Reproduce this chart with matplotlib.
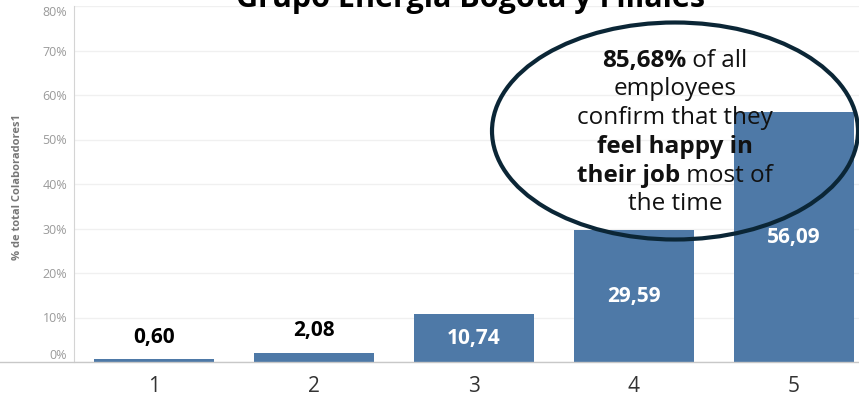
import matplotlib
matplotlib.use("Agg")
import matplotlib.pyplot as plt
from matplotlib.patches import Ellipse
from matplotlib.lines import Line2D
from matplotlib.transforms import IdentityTransform

categories = ["1", "2", "3", "4", "5"]
values = [0.60, 2.08, 10.74, 29.59, 56.09]
value_labels = ["0,60", "2,08", "10,74", "29,59", "56,09"]
y_ticks = [0, 10, 20, 30, 40, 50, 60, 70, 80]
y_tick_labels = ["0%", "10%", "20%", "30%", "40%", "50%", "60%", "70%", "80%"]
title = "Grupo Energía Bogotá y Filiales"
y_label = "% de total Colaboradores1"
callout_lines = [
    [("85,68%", "bold"), (" of all", "normal")],
    [("employees", "normal")],
    [("confirm that they", "normal")],
    [("feel happy in", "bold")],
    [("their job", "bold"), (" most of", "normal")],
    [("the time", "normal")],
]

plt.rcParams["font.family"] = ["Open Sans", "DejaVu Sans"]

W, H = 859, 399
fig = plt.figure(figsize=(W / 100, H / 100), dpi=100)
ax = fig.add_axes([74 / W, (H - 362) / H, (W - 74) / W, (362 - 6) / H])

x = list(range(len(categories)))
ax.bar(x, values, width=0.75, color="#4e79a7", zorder=2)

for i, v in enumerate(values):
    if v > 8:
        ax.text(i, v / 2, value_labels[i], ha="center", va="center",
                fontsize=15, fontweight="bold", color="white", zorder=3)
    else:
        ax.annotate(value_labels[i], (i, v), xytext=(0, 16), textcoords="offset points",
                    ha="center", va="center", fontsize=15, fontweight="bold", color="black")

ax.set_xlim(-0.5, (W - 154) / 160)
ax.set_ylim(0, 80)
ax.set_xticks(x)
ax.set_xticklabels(categories)
ax.set_yticks(y_ticks)
ax.set_yticklabels(y_tick_labels)
ax.tick_params(axis="x", length=0, labelsize=15, labelcolor="#333333", pad=10)
ax.tick_params(axis="y", length=0, labelsize=9, labelcolor="#9a9a9a", pad=5)
ylabs = ax.get_yticklabels()
ylabs[0].set_va("bottom")
ylabs[-1].set_va("top")

ax.yaxis.grid(True, color="#f0f0f0", linewidth=1)
ax.set_axisbelow(True)
for s in ["top", "right", "bottom"]:
    ax.spines[s].set_visible(False)
ax.spines["left"].set_color("#d4d4d4")

# baseline across whole width
fig.add_artist(Line2D([0, 1], [(H - 362) / H] * 2, transform=fig.transFigure,
                      color="#c8c8c8", linewidth=1))

fig.text(470 / W, 1 - 7 / H, title, ha="center", va="baseline",
         fontsize=22, fontweight="bold")
fig.text(18 / W, 1 - 187 / H, y_label, rotation=90, ha="center", va="center",
         fontsize=8, fontweight="bold", color="#777777")

# callout ellipse
fig.add_artist(Ellipse((675 / W, 1 - 131 / H), 366 / W, 217 / H,
                       transform=fig.transFigure, fill=False,
                       edgecolor="#0b2636", linewidth=3, zorder=4))

renderer = fig.canvas.get_renderer()


def rich_line(cx, cy, parts, size):
    texts = []
    for s, w in parts:
        t = fig.text(0, cy, s, transform=IdentityTransform(), fontsize=size,
                     fontweight=w, ha="left", va="center", color="#111111", zorder=5)
        texts.append(t)
    widths = [t.get_window_extent(renderer).width for t in texts]
    xx = cx - sum(widths) / 2
    for t, wd in zip(texts, widths):
        t.set_x(xx)
        xx += wd


line_y = [61, 89, 118, 147, 176, 204]
for parts, yy in zip(callout_lines, line_y):
    rich_line(675, H - yy, parts, 17.5)

fig.savefig("out.png", dpi=100)
